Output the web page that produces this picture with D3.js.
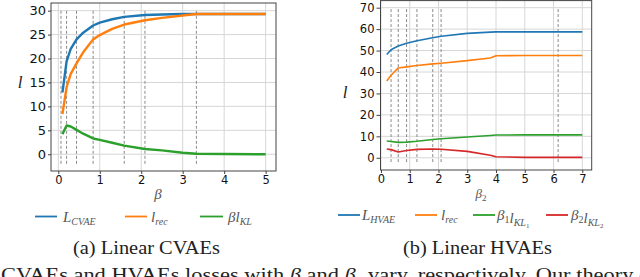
<!DOCTYPE html>
<html>
<head>
<meta charset="utf-8">
<script src="https://cdn.jsdelivr.net/npm/d3@7"></script>
<style>
  body { margin: 0; background: #fff; }
  svg { display: block; }
</style>
</head>
<body>
<div id="container"></div>
<script>
/* DATA */
const betaA   = [0.1, 0.2, 0.3, 0.44, 0.6, 0.84, 1.0, 1.3, 1.59, 2.09, 2.5, 3.0, 3.33, 4.0, 5.0];
const lCvae   = [12.9, 19.4, 22.0, 24.0, 25.4, 26.9, 27.5, 28.2, 28.7, 29.1, 29.2, 29.3, 29.3, 29.3, 29.3];
const lRecA   = [8.4, 14.0, 16.8, 19.0, 21.3, 24.0, 24.9, 26.2, 27.1, 28.0, 28.5, 29.0, 29.3, 29.3, 29.3];
const bKlA    = [4.2, 6.0, 5.8, 5.1, 4.3, 3.3, 3.0, 2.4, 1.8, 1.1, 0.8, 0.3, 0.1, 0.05, 0.0];
const dashA   = [0.065, 0.2, 0.44, 0.84, 1.59, 2.09, 3.33];
const xTicksA = [0, 1, 2, 3, 4, 5];
const yTicksA = [0, 5, 10, 15, 20, 25, 30];

const betaB   = [0.2, 0.35, 0.6, 0.89, 1.25, 1.8, 2.09, 3.0, 3.8, 4.0, 5.0, 6.16, 7.0];
const lHvae   = [48.2, 50.4, 52.1, 53.4, 54.6, 56.0, 56.7, 58.0, 58.6, 58.7, 58.7, 58.7, 58.7];
const lRecB   = [35.8, 38.5, 41.9, 42.4, 43.0, 43.8, 44.1, 45.3, 46.5, 47.6, 47.7, 47.7, 47.7];
const b1Kl1   = [7.8, 7.6, 7.2, 7.3, 7.7, 8.5, 8.9, 9.7, 10.4, 10.6, 10.7, 10.7, 10.7];
const b2Kl2   = [4.1, 3.8, 2.7, 3.4, 3.9, 4.1, 4.0, 3.0, 1.2, 0.5, 0.2, 0.2, 0.2];
const dashB   = [0.35, 0.6, 0.89, 1.25, 1.8, 2.09, 6.16];
const xTicksB = [0, 1, 2, 3, 4, 5, 6, 7];
const yTicksB = [0, 10, 20, 30, 40, 50, 60, 70];

const colors = ["#1f77b4", "#ff7f0e", "#2ca02c", "#d62728"];

const W = 640, H = 277;
const svg = d3.select("#container").append("svg").attr("width", W).attr("height", H);

const serif = "'Liberation Serif', 'DejaVu Serif', serif";
const sans = "'DejaVu Sans', sans-serif";

function panel(cfg) {
  const x = d3.scaleLinear().domain(cfg.xDom).range(cfg.xRange);
  const y = d3.scaleLinear().domain(cfg.yDom).range(cfg.yRange);
  const g = svg.append("g");

  // grid
  g.append("g").selectAll("line").data(cfg.xTicks).join("line")
    .attr("x1", d => x(d)).attr("x2", d => x(d))
    .attr("y1", cfg.yRange[0]).attr("y2", cfg.yRange[1])
    .attr("stroke", "#d6d6d6").attr("stroke-width", 1);
  g.append("g").selectAll("line").data(cfg.yTicks).join("line")
    .attr("x1", cfg.xRange[0]).attr("x2", cfg.xRange[1])
    .attr("y1", d => y(d)).attr("y2", d => y(d))
    .attr("stroke", "#d6d6d6").attr("stroke-width", 1);

  // dashed vertical markers
  g.append("g").selectAll("line").data(cfg.dash).join("line")
    .attr("x1", d => x(d)).attr("x2", d => x(d))
    .attr("y1", y(cfg.dashSpan[0])).attr("y2", y(cfg.dashSpan[1]))
    .attr("stroke", "#8a8a8a").attr("stroke-width", 1)
    .attr("stroke-dasharray", "3,2");

  // lines
  const line = d3.line().x(d => x(d[0])).y(d => y(d[1]));
  cfg.series.forEach((s, i) => {
    g.append("path")
      .datum(cfg.xs.map((b, j) => [b, s[j]]))
      .attr("d", line)
      .attr("fill", "none")
      .attr("stroke", colors[i])
      .attr("stroke-width", cfg.lw)
      .attr("stroke-linejoin", "round");
  });

  // axes
  const xAxis = d3.axisBottom(x).tickValues(cfg.xTicks).tickFormat(d3.format("d")).tickSize(3).tickPadding(2);
  const yAxis = d3.axisLeft(y).tickValues(cfg.yTicks).tickFormat(d3.format("d")).tickSize(cfg.yTickSize).tickPadding(2);
  const gx = g.append("g").attr("transform", `translate(0,${cfg.yRange[0]})`).call(xAxis);
  const gy = g.append("g").attr("transform", `translate(${cfg.xRange[0]},0)`).call(yAxis);
  gx.select(".domain").remove();
  gy.select(".domain").remove();
  gx.selectAll("text").attr("font-family", sans).attr("font-size", cfg.xFont).attr("fill", "#111");
  gy.selectAll("text").attr("font-family", sans).attr("font-size", cfg.yFont).attr("fill", "#111");
  g.selectAll(".tick line").attr("stroke", "#444");

  // frame
  g.append("rect")
    .attr("x", cfg.xRange[0]).attr("y", cfg.yRange[1])
    .attr("width", cfg.xRange[1] - cfg.xRange[0])
    .attr("height", cfg.yRange[0] - cfg.yRange[1])
    .attr("fill", "none").attr("stroke", "#444").attr("stroke-width", 1);

  // y label
  g.append("text").attr("x", cfg.ylab[0]).attr("y", cfg.ylab[1])
    .attr("font-family", serif).attr("font-style", "italic").attr("font-size", 17)
    .attr("text-anchor", "middle").attr("fill", "#222").text("l");
  return { x, y, g };
}

panel({
  xDom: [-0.176, 5.25], xRange: [51, 276],
  yDom: [-3.5, 31.6], yRange: [171, 3],
  xTicks: xTicksA, yTicks: yTicksA,
  dash: dashA, dashSpan: [-2, 30],
  xs: betaA, series: [lCvae, lRecA, bKlA], lw: 2.4,
  xFont: 11.5, yFont: 13, yTickSize: 3,
  ylab: [20, 88]
});

panel({
  xDom: [-0.017, 7.327], xRange: [380.5, 591.7],
  yDom: [-5.7, 73.3], yRange: [170, 0.6],
  xTicks: xTicksB, yTicks: yTicksB,
  dash: dashB, dashSpan: [-2, 69.5],
  xs: betaB, series: [lHvae, lRecB, b1Kl1, b2Kl2], lw: 1.6,
  xFont: 11.5, yFont: 11.5, yTickSize: 4,
  ylab: [345, 98]
});

// x labels
svg.append("text").attr("x", 158).attr("y", 199)
  .attr("font-family", serif).attr("font-style", "italic").attr("font-size", 15)
  .attr("text-anchor", "middle").attr("fill", "#555").text("β");
const xlb = svg.append("text").attr("x", 481).attr("y", 198)
  .attr("font-family", serif).attr("font-style", "italic").attr("font-size", 13)
  .attr("text-anchor", "middle").attr("fill", "#555");
xlb.append("tspan").text("β");
xlb.append("tspan").attr("font-size", 9).attr("font-style", "normal").attr("dy", 3).text("2");

// legends
const legendA = [
  { x0: 35, x1: 57, tx: 63, main: "L", sub: "CVAE", pre: "" },
  { x0: 125, x1: 147, tx: 151, main: "l", sub: "rec", pre: "" },
  { x0: 200, x1: 223, tx: 228, main: "l", sub: "KL", pre: "β" }
];
const legendB = [
  { x0: 338, x1: 360, tx: 362, main: "L", sub: "HVAE", pre: "" },
  { x0: 415, x1: 437, tx: 441, main: "l", sub: "rec", pre: "" },
  { x0: 473, x1: 495, tx: 497, main: "l", sub: "KL", pre: "β", preSub: "1", subSub: "1" },
  { x0: 546, x1: 568, tx: 571, main: "l", sub: "KL", pre: "β", preSub: "2", subSub: "2" }
];

function drawLegend(items, ly) {
  items.forEach((d, i) => {
    svg.append("line").attr("x1", d.x0).attr("x2", d.x1).attr("y1", ly).attr("y2", ly)
      .attr("stroke", colors[i]).attr("stroke-width", 1.8);
    const t = svg.append("text").attr("x", d.tx).attr("y", ly + 5)
      .attr("font-family", serif).attr("font-style", "italic").attr("font-size", 15)
      .attr("fill", "#555");
    if (d.pre) {
      t.append("tspan").text(d.pre);
      if (d.preSub) {
        t.append("tspan").attr("font-size", 10).attr("font-style", "normal").attr("dy", 3).text(d.preSub);
        t.append("tspan").attr("dy", -3).text("");
      }
    }
    t.append("tspan").text(d.main);
    t.append("tspan").attr("font-size", 10).attr("dy", 3).text(d.sub);
    if (d.subSub) t.append("tspan").attr("font-size", 7).attr("font-style", "normal").attr("dy", 2).text(d.subSub);
  });
}
drawLegend(legendA, 216.5);
drawLegend(legendB, 215);

// captions
svg.append("text").attr("x", 146.5).attr("y", 253.5)
  .attr("font-family", serif).attr("font-size", 18).attr("text-anchor", "middle")
  .attr("fill", "#222").attr("textLength", 147).attr("lengthAdjust", "spacingAndGlyphs")
  .text("(a) Linear CVAEs");
svg.append("text").attr("x", 477.5).attr("y", 253.5)
  .attr("font-family", serif).attr("font-size", 18).attr("text-anchor", "middle")
  .attr("fill", "#222").attr("textLength", 149).attr("lengthAdjust", "spacingAndGlyphs")
  .text("(b) Linear HVAEs");

// figure caption, cut by the bottom edge as in the source
const cap = svg.append("text").attr("x", 1).attr("y", 281)
  .attr("font-family", serif).attr("font-size", 18).attr("fill", "#222")
  .attr("textLength", 648).attr("lengthAdjust", "spacingAndGlyphs");
cap.append("tspan").text("CVAEs and HVAEs losses with ");
cap.append("tspan").attr("font-style", "italic").text("β");
cap.append("tspan").text(" and ");
cap.append("tspan").attr("font-style", "italic").text("β");
cap.append("tspan").attr("font-size", 11).attr("dy", 3).text("2");
cap.append("tspan").attr("dy", -3).text(" vary, respectively. Our theory c");
</script>
</body>
</html>
